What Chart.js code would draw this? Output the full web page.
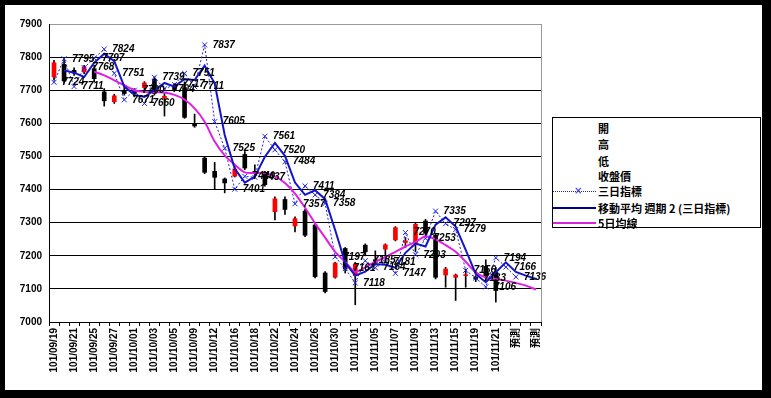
<!DOCTYPE html>
<html>
<head>
<meta charset="utf-8">
<script src="https://cdn.jsdelivr.net/npm/chart.js@4/dist/chart.umd.min.js"></script>
<style>
  html, body { margin: 0; padding: 0; background: #000; }
  body { width: 771px; height: 398px; position: relative; overflow: hidden; }
  .frame { position: absolute; left: 5px; top: 5px; width: 757px; height: 385px; background: #fff; }
  #chart { position: absolute; left: 0; top: 0; }
  .legend {
    position: absolute; left: 552px; top: 117px; width: 207px; height: 109px;
    border: 1px solid #000; background: #fff;
    font-family: "Noto Sans CJK TC", sans-serif; font-size: 11px; font-weight: 700; color: #000;
  }
  .legend-row { position: absolute; left: 0; width: 207px; height: 16px; line-height: 16px; white-space: nowrap; }
  .legend-row span.txt { position: absolute; left: 45px; top: 0; }
  .sample { position: absolute; left: 0; width: 43px; top: 8px; }
  .sample.dotted { border-top: 1px dotted #2020e0; }
  .sample.dotted i { position: absolute; left: 21px; top: -9px; font-style: normal; font-weight: 400; font-size: 10px; color: #2020e0; font-family: "DejaVu Sans", sans-serif; }
  .sample.navy { border-top: 2px solid #000090; top: 7px; }
  .sample.magenta { border-top: 2px solid #dd22dd; top: 7px; }
</style>
</head>
<body>
<div class="frame"></div>
<canvas id="chart" width="771" height="398"></canvas>
<div class="legend">
  <div class="legend-row" style="top:2px"><span class="txt">開</span></div>
  <div class="legend-row" style="top:18px"><span class="txt">高</span></div>
  <div class="legend-row" style="top:35px"><span class="txt">低</span></div>
  <div class="legend-row" style="top:50px"><span class="txt">收盤價</span></div>
  <div class="legend-row" style="top:65px"><div class="sample dotted"><i>×</i></div><span class="txt">三日指標</span></div>
  <div class="legend-row" style="top:82px"><div class="sample navy"></div><span class="txt">移動平均 週期 2 (三日指標)</span></div>
  <div class="legend-row" style="top:97px"><div class="sample magenta"></div><span class="txt">5日均線</span></div>
</div>
<script>
const categories = [
  "101/09/19", "101/09/20", "101/09/21", "101/09/24", "101/09/25", "101/09/26", "101/09/27",
  "101/09/28", "101/10/01", "101/10/02", "101/10/03", "101/10/04", "101/10/05", "101/10/08",
  "101/10/09", "101/10/11", "101/10/12", "101/10/15", "101/10/16", "101/10/17", "101/10/18",
  "101/10/19", "101/10/22", "101/10/23", "101/10/24", "101/10/25", "101/10/26", "101/10/29",
  "101/10/30", "101/10/31", "101/11/01", "101/11/02", "101/11/05", "101/11/06", "101/11/07",
  "101/11/08", "101/11/09", "101/11/12", "101/11/13", "101/11/14", "101/11/15", "101/11/16",
  "101/11/19", "101/11/20", "101/11/21", "101/11/22", "預測", "預測", "預測",
];

// 開 / 高 / 低 / 收盤價
const openPrices = [
  7740, 7778, 7760, 7755, 7765, 7695, 7665, 7700, 7700, 7708, 7733, 7676, 7712, 7708, 7598,
  7495, 7455, 7432, 7440, 7506, 7455, 7450, 7333, 7370, 7290, 7335, 7293, 7148, 7135, 7222,
  7140, 7232, 7188, 7220, 7248, 7240, 7235, 7305, 7262, 7142, 7135, 7140, 7135, 7168, 7150,
  null, null, null, null,
];
const highPrices = [
  7790, 7795, 7768, 7775, 7775, 7705, 7688, 7712, 7705, 7726, 7740, 7690, 7720, 7725, 7628,
  7500, 7482, 7435, 7470, 7515, 7475, 7455, 7378, 7378, 7318, 7340, 7300, 7152, 7180, 7225,
  7180, 7236, 7215, 7236, 7288, 7255, 7300, 7310, 7268, 7165, 7145, 7160, 7140, 7188, 7165,
  null, null, null, null,
];
const lowPrices = [
  7730, 7722, 7745, 7750, 7725, 7652, 7660, 7685, 7680, 7700, 7685, 7622, 7698, 7615, 7588,
  7448, 7400, 7390, 7438, 7460, 7443, 7410, 7308, 7325, 7272, 7258, 7133, 7088, 7132, 7148,
  7052, 7200, 7172, 7186, 7245, 7225, 7212, 7260, 7130, 7105, 7065, 7105, 7122, 7125, 7060,
  null, null, null, null,
];
const closePrices = [
  7783, 7728, 7752, 7770, 7735, 7668, 7683, 7690, 7690, 7722, 7690, 7682, 7702, 7618, 7592,
  7452, 7437, 7420, 7462, 7465, 7448, 7415, 7372, 7340, 7312, 7262, 7137, 7092, 7178, 7160,
  7175, 7212, 7180, 7233, 7285, 7245, 7295, 7268, 7135, 7160, 7142, 7143, 7130, 7140, 7095,
  null, null, null, null,
];

const threeDayIndex = [
  7724, 7795, 7711, 7768, 7797, 7824, 7751, 7671, 7700, 7660, 7739, 7704, 7717, 7751, 7711,
  7837, 7605, 7525, 7401, 7440, 7437, 7561, 7520, 7484, 7357, 7411, 7384, 7358, 7197, 7161,
  7118, 7185, 7164, 7181, 7147, 7270, 7203, 7253, 7335, 7297, 7279, 7156, 7133, 7106, 7194,
  7166, 7136, null, null,
];
const movingAvg2 = [
  null, 7760, 7753, 7740, 7783, 7810, 7788, 7711, 7686, 7680, 7700, 7722, 7711, 7734, 7731,
  7774, 7721, 7565, 7463, 7421, 7439, 7499, 7541, 7502, 7421, 7384, 7398, 7371, 7278, 7179,
  7140, 7152, 7175, 7173, 7164, 7209, 7237, 7228, 7294, 7316, 7288, 7218, 7145, 7120, 7150,
  7180, 7151, 7140, 7130,
];
const fiveDayAvg = [
  null, null, null, null, 7756, 7745, 7730, 7715, 7700, 7695, 7694, 7693, 7686, 7672, 7645,
  7605, 7545, 7503, 7475, 7452, 7450, 7449, 7440, 7420, 7388, 7345, 7298, 7255, 7212, 7182,
  7152, 7165, 7182, 7196, 7212, 7228, 7242, 7258, 7250, 7232, 7212, 7182, 7150, 7134, 7130,
  7125, 7118, 7110, 7098,
];
const yTicks = [7000, 7100, 7200, 7300, 7400, 7500, 7600, 7700, 7800, 7900];

const tickFont = { family: "'Liberation Sans', 'Noto Sans CJK TC', sans-serif", size: 10, weight: "bold" };

const bodies = openPrices.map((o, i) => (o == null ? null : [o, closePrices[i]]));
const wicks = lowPrices.map((l, i) => (l == null ? null : [l, highPrices[i]]));
const bodyColors = openPrices.map((o, i) => (closePrices[i] > o ? "#ff0000" : "#000000"));

// value labels next to the 三日指標 markers
const pointLabels = {
  id: "pointLabels",
  afterDatasetsDraw(chart) {
    const meta = chart.getDatasetMeta(0);
    const ctx = chart.ctx;
    ctx.save();
    ctx.font = "italic bold 10px 'Liberation Sans', sans-serif";
    ctx.fillStyle = "#000";
    ctx.textBaseline = "middle";
    meta.data.forEach((pt, i) => {
      const v = threeDayIndex[i];
      if (v == null) return;
      ctx.fillText(String(v), pt.x + 8, pt.y);
    });
    ctx.restore();
  },
};

// grey plot-area edge on the right
const plotBorder = {
  id: "plotBorder",
  afterDraw(chart) {
    const { ctx, chartArea } = chart;
    ctx.save();
    ctx.strokeStyle = "#999";
    ctx.lineWidth = 1;
    ctx.beginPath();
    ctx.moveTo(Math.round(chartArea.right) + 0.5, chartArea.top);
    ctx.lineTo(Math.round(chartArea.right) + 0.5, chartArea.bottom);
    ctx.stroke();
    ctx.restore();
  },
};

new Chart(document.getElementById("chart"), {
  type: "bar",
  data: {
    labels: categories,
    datasets: [
      {
        type: "line",
        label: "三日指標",
        data: threeDayIndex,
        borderColor: "#2020e0",
        borderWidth: 1,
        borderDash: [2, 2],
        pointStyle: "crossRot",
        pointRadius: 3.5,
        pointBorderColor: "#2020e0",
        pointBorderWidth: 1,
        tension: 0,
        order: 1,
      },
      {
        type: "line",
        label: "移動平均 週期 2 (三日指標)",
        data: movingAvg2,
        borderColor: "#1414c8",
        borderWidth: 2,
        pointRadius: 0,
        tension: 0,
        order: 0,
      },
      {
        type: "line",
        label: "5日均線",
        data: fiveDayAvg,
        borderColor: "#e020e0",
        borderWidth: 2,
        pointRadius: 0,
        tension: 0.3,
        order: 0,
      },
      {
        label: "高低",
        data: wicks,
        backgroundColor: "#000",
        barThickness: 1,
        grouped: false,
        order: 3,
      },
      {
        label: "開收",
        data: bodies,
        backgroundColor: bodyColors,
        barThickness: 4,
        minBarLength: 1,
        grouped: false,
        order: 2,
      },
    ],
  },
  options: {
    responsive: false,
    animation: false,
    layout: { padding: { left: 0, top: 24, right: 230, bottom: 16 } },
    plugins: { legend: { display: false }, tooltip: { enabled: false } },
    scales: {
      x: {
        offset: true,
        grid: { offset: true, drawOnChartArea: false, drawTicks: true, tickLength: 4, color: "#000" },
        border: { color: "#000" },
        ticks: {
          autoSkip: false,
          maxRotation: 90,
          minRotation: 90,
          padding: 2,
          color: "#000",
          font: tickFont,
          callback: (v, i) => (i % 2 === 0 ? categories[i] : ""),
        },
        afterFit: (s) => { s.height = 60; },
      },
      y: {
        min: 7000,
        max: 7900,
        afterBuildTicks: (s) => { s.ticks = yTicks.map((v) => ({ value: v })); },
        grid: { color: (c) => (c.tick && c.tick.value === 7900 ? "#999" : "#000"), drawTicks: false },
        border: { color: "#000" },
        ticks: { padding: 7, color: "#000", font: tickFont, callback: (v) => String(v) },
        afterFit: (s) => { s.width = 49; },
      },
    },
  },
  plugins: [pointLabels, plotBorder],
});
</script>
</body>
</html>
